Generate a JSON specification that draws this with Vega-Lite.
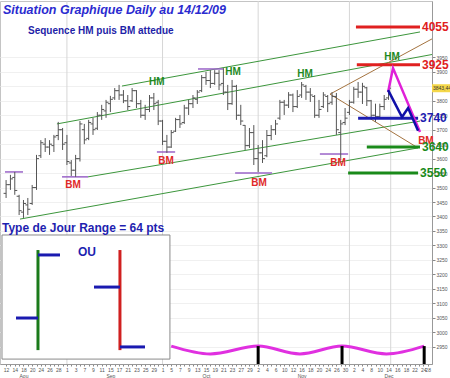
{
  "$schema": "https://vega.github.io/schema/vega-lite/v6.json",
  "width": 432,
  "height": 363,
  "autosize": {"type": "none"},
  "padding": {"left": 0, "top": 1, "right": 18, "bottom": 14},
  "background": "white",
  "title": {
    "text": "Situation Graphique Daily au 14/12/09",
    "anchor": "start",
    "frame": "group",
    "offset": -16,
    "dx": 3,
    "font": "Liberation Sans",
    "fontSize": 12.5,
    "fontStyle": "italic",
    "fontWeight": "bold",
    "color": "#2b2bd0"
  },
  "config": {
    "font": "Liberation Sans",
    "view": {"stroke": "#c4c4c4"},
    "axis": {"labelOverlap": false}
  },
  "datasets": {
    "ohlc": [
      {"t":0,"date":"2009-08-12","open":3480,"high":3526,"low":3464,"close":3510},
      {"t":1,"date":"2009-08-13","open":3510,"high":3544,"low":3492,"close":3530},
      {"t":2,"date":"2009-08-14","open":3535,"high":3554,"low":3475,"close":3490},
      {"t":3,"date":"2009-08-17","open":3470,"high":3475,"low":3405,"close":3420},
      {"t":4,"date":"2009-08-18","open":3415,"high":3457,"low":3395,"close":3445},
      {"t":5,"date":"2009-08-19","open":3440,"high":3464,"low":3405,"close":3425},
      {"t":6,"date":"2009-08-20","open":3445,"high":3509,"low":3440,"close":3500},
      {"t":7,"date":"2009-08-21","open":3500,"high":3613,"low":3492,"close":3600},
      {"t":8,"date":"2009-08-24","open":3610,"high":3664,"low":3602,"close":3655},
      {"t":9,"date":"2009-08-25","open":3650,"high":3671,"low":3623,"close":3640},
      {"t":10,"date":"2009-08-26","open":3640,"high":3664,"low":3613,"close":3650},
      {"t":11,"date":"2009-08-27","open":3645,"high":3682,"low":3623,"close":3675},
      {"t":12,"date":"2009-08-28","open":3680,"high":3727,"low":3664,"close":3700},
      {"t":13,"date":"2009-08-31","open":3700,"high":3706,"low":3630,"close":3650},
      {"t":14,"date":"2009-09-01","open":3655,"high":3682,"low":3578,"close":3590},
      {"t":15,"date":"2009-09-02","open":3585,"high":3595,"low":3540,"close":3560},
      {"t":16,"date":"2009-09-03","open":3560,"high":3613,"low":3537,"close":3600},
      {"t":17,"date":"2009-09-04","open":3600,"high":3730,"low":3590,"close":3720},
      {"t":18,"date":"2009-09-07","open":3700,"high":3720,"low":3650,"close":3665},
      {"t":19,"date":"2009-09-08","open":3670,"high":3734,"low":3664,"close":3725},
      {"t":20,"date":"2009-09-09","open":3720,"high":3741,"low":3682,"close":3700},
      {"t":21,"date":"2009-09-10","open":3705,"high":3761,"low":3699,"close":3750},
      {"t":22,"date":"2009-09-11","open":3750,"high":3786,"low":3734,"close":3770},
      {"t":23,"date":"2009-09-14","open":3765,"high":3803,"low":3741,"close":3795},
      {"t":24,"date":"2009-09-15","open":3790,"high":3817,"low":3761,"close":3805},
      {"t":25,"date":"2009-09-16","open":3810,"high":3844,"low":3803,"close":3835},
      {"t":26,"date":"2009-09-17","open":3835,"high":3855,"low":3803,"close":3820},
      {"t":27,"date":"2009-09-18","open":3820,"high":3837,"low":3792,"close":3800},
      {"t":28,"date":"2009-09-21","open":3800,"high":3820,"low":3768,"close":3780},
      {"t":29,"date":"2009-09-22","open":3800,"high":3844,"low":3796,"close":3835},
      {"t":30,"date":"2009-09-23","open":3835,"high":3837,"low":3775,"close":3790},
      {"t":31,"date":"2009-09-24","open":3790,"high":3803,"low":3741,"close":3750},
      {"t":32,"date":"2009-09-25","open":3750,"high":3786,"low":3734,"close":3770},
      {"t":33,"date":"2009-09-28","open":3770,"high":3820,"low":3761,"close":3810},
      {"t":34,"date":"2009-09-29","open":3810,"high":3827,"low":3768,"close":3790},
      {"t":35,"date":"2009-09-30","open":3795,"high":3803,"low":3716,"close":3730},
      {"t":36,"date":"2009-10-01","open":3730,"high":3734,"low":3647,"close":3660},
      {"t":37,"date":"2009-10-02","open":3660,"high":3682,"low":3620,"close":3640},
      {"t":38,"date":"2009-10-05","open":3640,"high":3699,"low":3637,"close":3690},
      {"t":39,"date":"2009-10-06","open":3695,"high":3741,"low":3692,"close":3735},
      {"t":40,"date":"2009-10-07","open":3735,"high":3751,"low":3706,"close":3720},
      {"t":41,"date":"2009-10-08","open":3725,"high":3786,"low":3720,"close":3775},
      {"t":42,"date":"2009-10-09","open":3775,"high":3803,"low":3751,"close":3790},
      {"t":43,"date":"2009-10-12","open":3790,"high":3820,"low":3775,"close":3810},
      {"t":44,"date":"2009-10-13","open":3805,"high":3837,"low":3789,"close":3830},
      {"t":45,"date":"2009-10-14","open":3835,"high":3889,"low":3830,"close":3880},
      {"t":46,"date":"2009-10-15","open":3880,"high":3900,"low":3855,"close":3870},
      {"t":47,"date":"2009-10-16","open":3870,"high":3906,"low":3844,"close":3860},
      {"t":48,"date":"2009-10-19","open":3860,"high":3906,"low":3855,"close":3895},
      {"t":49,"date":"2009-10-20","open":3895,"high":3906,"low":3837,"close":3855},
      {"t":50,"date":"2009-10-21","open":3860,"high":3913,"low":3820,"close":3830},
      {"t":51,"date":"2009-10-22","open":3830,"high":3855,"low":3768,"close":3790},
      {"t":52,"date":"2009-10-23","open":3790,"high":3872,"low":3786,"close":3850},
      {"t":53,"date":"2009-10-26","open":3850,"high":3855,"low":3734,"close":3750},
      {"t":54,"date":"2009-10-27","open":3750,"high":3786,"low":3716,"close":3730},
      {"t":55,"date":"2009-10-28","open":3715,"high":3716,"low":3630,"close":3645},
      {"t":56,"date":"2009-10-29","open":3645,"high":3706,"low":3637,"close":3690},
      {"t":57,"date":"2009-10-30","open":3690,"high":3716,"low":3578,"close":3600},
      {"t":58,"date":"2009-11-02","open":3600,"high":3647,"low":3554,"close":3620},
      {"t":59,"date":"2009-11-03","open":3620,"high":3664,"low":3585,"close":3600},
      {"t":60,"date":"2009-11-04","open":3610,"high":3699,"low":3605,"close":3680},
      {"t":61,"date":"2009-11-05","open":3680,"high":3716,"low":3664,"close":3700},
      {"t":62,"date":"2009-11-06","open":3700,"high":3734,"low":3682,"close":3720},
      {"t":63,"date":"2009-11-09","open":3740,"high":3803,"low":3734,"close":3795},
      {"t":64,"date":"2009-11-10","open":3795,"high":3803,"low":3751,"close":3785},
      {"t":65,"date":"2009-11-11","open":3785,"high":3830,"low":3775,"close":3820},
      {"t":66,"date":"2009-11-12","open":3820,"high":3825,"low":3761,"close":3780},
      {"t":67,"date":"2009-11-13","open":3780,"high":3837,"low":3775,"close":3815},
      {"t":68,"date":"2009-11-16","open":3820,"high":3865,"low":3810,"close":3855},
      {"t":69,"date":"2009-11-17","open":3850,"high":3855,"low":3803,"close":3830},
      {"t":70,"date":"2009-11-18","open":3830,"high":3844,"low":3796,"close":3820},
      {"t":71,"date":"2009-11-19","open":3815,"high":3820,"low":3741,"close":3750},
      {"t":72,"date":"2009-11-20","open":3750,"high":3803,"low":3741,"close":3770},
      {"t":73,"date":"2009-11-23","open":3780,"high":3830,"low":3775,"close":3820},
      {"t":74,"date":"2009-11-24","open":3815,"high":3820,"low":3761,"close":3790},
      {"t":75,"date":"2009-11-25","open":3795,"high":3830,"low":3786,"close":3815},
      {"t":76,"date":"2009-11-26","open":3815,"high":3827,"low":3682,"close":3700},
      {"t":77,"date":"2009-11-27","open":3690,"high":3734,"low":3595,"close":3720},
      {"t":78,"date":"2009-11-30","open":3725,"high":3775,"low":3716,"close":3740},
      {"t":79,"date":"2009-12-01","open":3760,"high":3803,"low":3751,"close":3795},
      {"t":80,"date":"2009-12-02","open":3795,"high":3848,"low":3790,"close":3840},
      {"t":81,"date":"2009-12-03","open":3840,"high":3865,"low":3810,"close":3830},
      {"t":82,"date":"2009-12-04","open":3830,"high":3862,"low":3789,"close":3850},
      {"t":83,"date":"2009-12-07","open":3845,"high":3848,"low":3782,"close":3800},
      {"t":84,"date":"2009-12-08","open":3800,"high":3803,"low":3741,"close":3750},
      {"t":85,"date":"2009-12-09","open":3750,"high":3790,"low":3727,"close":3745},
      {"t":86,"date":"2009-12-10","open":3745,"high":3790,"low":3741,"close":3780},
      {"t":87,"date":"2009-12-11","open":3780,"high":3820,"low":3768,"close":3805},
      {"t":88,"date":"2009-12-14","open":3810,"high":3848,"low":3803,"close":3843.44}
    ],
    "monthLines": [{"t":14},{"t":36},{"t":58},{"t":79},{"t":88.5}],
    "trends": [
      {"line":"upper","family":"channel","t":26.67,"p":3851},
      {"line":"upper","family":"channel","t":95.24,"p":4038},
      {"line":"mid","family":"channel","t":11.7,"p":3720},
      {"line":"mid","family":"channel","t":98,"p":3960},
      {"line":"lowInner","family":"channel","t":18.85,"p":3537},
      {"line":"lowInner","family":"channel","t":95.24,"p":3730},
      {"line":"low","family":"channel","t":3.2,"p":3391},
      {"line":"low","family":"channel","t":94.78,"p":3637},
      {"line":"fanUp","family":"fan","t":74.53,"p":3823},
      {"line":"fanUp","family":"fan","t":98,"p":4014},
      {"line":"fanDown","family":"fan","t":74.53,"p":3823},
      {"line":"fanDown","family":"fan","t":94.78,"p":3637}
    ],
    "pivots": [
      {"type":"HM","t0":-0.25,"t1":3.9,"p":3554},
      {"type":"BM","t0":12.87,"t1":18.85,"p":3537},
      {"type":"BM","t0":34.7,"t1":38.9,"p":3623},
      {"type":"HM","t0":44.16,"t1":49.9,"p":3910},
      {"type":"BM","t0":52.7,"t1":61.2,"p":3550},
      {"type":"BM","t0":72.2,"t1":78.7,"p":3616}
    ],
    "pivotLabels": [
      {"label":"HM","t":34.7,"p":3865},
      {"label":"HM","t":52.2,"p":3900},
      {"label":"HM","t":68.8,"p":3893},
      {"label":"HM","t":88.8,"p":3951},
      {"label":"BM","t":15.4,"p":3509},
      {"label":"BM","t":36.8,"p":3592},
      {"label":"BM","t":58.2,"p":3516},
      {"label":"BM","t":76.4,"p":3585},
      {"label":"BM","t":96.6,"p":3661}
    ],
    "levels": [
      {"value":4055,"t0":80.5,"t1":95.24,"kind":"objectif"},
      {"value":3925,"t0":80.7,"t1":95.24,"kind":"resistance"},
      {"value":3740,"t0":81,"t1":94.8,"kind":"pivot"},
      {"value":3640,"t0":83,"t1":95.24,"kind":"support"},
      {"value":3550,"t0":78.7,"t1":94.8,"kind":"support"}
    ],
    "projection": [
      {"path":"haut","step":0,"t":87.9,"p":3830},
      {"path":"haut","step":1,"t":89.03,"p":3913},
      {"path":"haut","step":2,"t":95.24,"p":3692},
      {"path":"bas","step":0,"t":87.9,"p":3837},
      {"path":"bas","step":1,"t":91.1,"p":3744},
      {"path":"bas","step":2,"t":92.5,"p":3775},
      {"path":"bas","step":3,"t":94.8,"p":3696}
    ],
    "cycle": [
      {"t":38,"p":2952},{"t":47,"p":2925},{"t":58,"p":2952},{"t":67.6,"p":2925},
      {"t":77.3,"p":2952},{"t":87.5,"p":2925},{"t":96.2,"p":2952}
    ],
    "cycleMarks": [{"t":58,"p":2952},{"t":77.3,"p":2952},{"t":96.2,"p":2952}],
    "insetBox": [{"t0":-0.94,"t1":37.7,"p0":2907,"p1":3336}],
    "insetLines": [
      {"kind":"haussier","t0":7.34,"t1":7.34,"p0":2938,"p1":3284},
      {"kind":"cours","t0":7.34,"t1":12.4,"p0":3267,"p1":3267},
      {"kind":"cours","t0":2.28,"t1":7.34,"p0":3049,"p1":3049},
      {"kind":"baissier","t0":26.2,"t1":26.2,"p0":2938,"p1":3284},
      {"kind":"cours","t0":20.23,"t1":26.2,"p0":3156,"p1":3156},
      {"kind":"cours","t0":26.2,"t1":31.96,"p0":2949,"p1":2949}
    ],
    "notes": [
      {"role":"sous-titre","text":"Sequence HM puis BM attedue","t":5.04,"p":4041},
      {"role":"note","text":"Type de Jour Range = 64 pts","t":-0.94,"p":3360},
      {"role":"note","text":"OU","t":16.55,"p":3277}
    ],
    "lastPrice": [{"close":3843.44,"label":"3843,44"}]
  },
  "layer": [
    {
      "data": {"name": "monthLines"},
      "mark": {"type": "rule", "color": "#d6d6d6", "strokeWidth": 1},
      "encoding": {
        "x": {
          "field": "t", "type": "quantitative", "title": null,
          "scale": {"domain": [-1.4, 98], "nice": false, "zero": false},
          "axis": {
            "orient": "bottom",
            "values": [0,1,2,3,4,5,6,7,8,9,10,11,12,13,14,15,16,17,18,19,20,21,22,23,24,25,26,27,28,29,30,31,32,33,34,35,36,37,38,39,40,41,42,43,44,45,46,47,48,49,50,51,52,53,54,55,56,57,58,59,60,61,62,63,64,65,66,67,68,69,70,71,72,73,74,75,76,77,78,79,80,81,82,83,84,85,86,87,88,89,90,91,92,93,94,95,96,97],
            "tickCount": 500,
            "labelExpr": "datum.value == 4 ? ['18','Aou'] : datum.value == 24 ? ['15','Sep'] : datum.value == 46 ? ['15','Oct'] : datum.value == 68 ? ['16','Nov'] : datum.value == 88 ? ['14','Dec'] : datum.value == 97 ? '28' : datum.value % 2 == 0 ? ['12','14','18','20','24','26','28','1','3','7','9','11','15','17','21','23','25','29','1','5','7','9','13','15','19','21','23','27','29','2','4','6','10','12','16','18','20','24','26','30','2','4','8','10','14','16','18','22','24'][datum.value / 2] : ''",
            "labelFontSize": 5,
            "labelColor": "#555555",
            "labelLineHeight": 6,
            "labelPadding": 1,
            "labelOverlap": false,
            "labelFlush": false,
            "tickSize": 2,
            "tickColor": "#888888",
            "domainColor": "#999999",
            "grid": false
          }
        }
      }
    },
    {
      "data": {"name": "trends"},
      "transform": [{"filter": "datum.family == 'channel'"}],
      "mark": {"type": "line", "color": "#3c963c", "strokeWidth": 1},
      "encoding": {
        "x": {"field": "t", "type": "quantitative", "title": null},
        "y": {"field": "p", "type": "quantitative", "title": null},
        "detail": {"field": "line"}
      }
    },
    {
      "data": {"name": "trends"},
      "transform": [{"filter": "datum.family == 'fan'"}],
      "mark": {"type": "line", "color": "#a4733f", "strokeWidth": 1},
      "encoding": {
        "x": {"field": "t", "type": "quantitative", "title": null},
        "y": {"field": "p", "type": "quantitative", "title": null},
        "detail": {"field": "line"}
      }
    },
    {
      "data": {"name": "pivots"},
      "mark": {"type": "rule", "color": "#9a64c8", "strokeWidth": 1.5},
      "encoding": {
        "x": {"field": "t0", "type": "quantitative", "title": null},
        "x2": {"field": "t1"},
        "y": {"field": "p", "type": "quantitative", "title": null}
      }
    },
    {
      "data": {"name": "ohlc"},
      "mark": {"type": "rule", "color": "#555555", "strokeWidth": 1},
      "encoding": {
        "x": {"field": "t", "type": "quantitative", "title": null},
        "y": {
          "field": "low", "type": "quantitative", "title": null,
          "scale": {"domain": [2890, 4145], "nice": false, "zero": false},
          "axis": {
            "orient": "right",
            "values": [2950,3000,3050,3100,3150,3200,3250,3300,3350,3400,3450,3500,3550,3600,3650,3700,3750,3800,3850,3900,3950],
            "tickCount": 500,
            "format": "d",
            "labelFontSize": 5,
            "labelColor": "#555555",
            "labelPadding": 1,
            "labelOverlap": false,
            "tickSize": 3,
            "tickColor": "#888888",
            "domainColor": "#999999",
            "grid": true,
            "gridColor": "#f0f0f0"
          }
        },
        "y2": {"field": "high"}
      }
    },
    {
      "data": {"name": "ohlc"},
      "mark": {"type": "rule", "color": "#555555", "strokeWidth": 1, "xOffset": -2.5},
      "encoding": {
        "x": {"field": "t", "type": "quantitative", "title": null},
        "x2": {"field": "t"},
        "y": {"field": "open", "type": "quantitative", "title": null}
      }
    },
    {
      "data": {"name": "ohlc"},
      "mark": {"type": "rule", "color": "#555555", "strokeWidth": 1, "x2Offset": 2.5},
      "encoding": {
        "x": {"field": "t", "type": "quantitative", "title": null},
        "x2": {"field": "t"},
        "y": {"field": "close", "type": "quantitative", "title": null}
      }
    },
    {
      "data": {"name": "levels"},
      "mark": {"type": "rule", "strokeWidth": 3},
      "encoding": {
        "x": {"field": "t0", "type": "quantitative", "title": null},
        "x2": {"field": "t1"},
        "y": {"field": "value", "type": "quantitative", "title": null},
        "color": {
          "condition": [
            {"test": "datum.kind == 'pivot'", "value": "#1c1cb0"},
            {"test": "datum.kind == 'support'", "value": "#1a8a1a"}
          ],
          "value": "#e02020"
        }
      }
    },
    {
      "data": {"name": "projection"},
      "mark": {"type": "line", "strokeWidth": 2.5},
      "encoding": {
        "x": {"field": "t", "type": "quantitative", "title": null},
        "y": {"field": "p", "type": "quantitative", "title": null},
        "order": {"field": "step"},
        "detail": {"field": "path"},
        "color": {
          "condition": {"test": "datum.path == 'haut'", "value": "#e020d8"},
          "value": "#1010a8"
        }
      }
    },
    {
      "data": {"name": "pivotLabels"},
      "mark": {"type": "text", "fontSize": 10, "fontWeight": "bold", "align": "center", "baseline": "middle"},
      "encoding": {
        "x": {"field": "t", "type": "quantitative", "title": null},
        "y": {"field": "p", "type": "quantitative", "title": null},
        "text": {"field": "label"},
        "color": {
          "condition": {"test": "datum.label == 'HM'", "value": "#1f8a1f"},
          "value": "#e02828"
        }
      }
    },
    {
      "data": {"name": "levels"},
      "mark": {"type": "text", "fontSize": 12, "fontWeight": "bold", "align": "left", "baseline": "middle", "dx": 2},
      "encoding": {
        "x": {"field": "t1", "type": "quantitative", "title": null},
        "y": {"field": "value", "type": "quantitative", "title": null},
        "text": {"field": "value"},
        "color": {
          "condition": [
            {"test": "datum.kind == 'pivot'", "value": "#1c1cb0"},
            {"test": "datum.kind == 'support'", "value": "#1a8a1a"}
          ],
          "value": "#e02020"
        }
      }
    },
    {
      "data": {"name": "cycle"},
      "mark": {"type": "line", "color": "#e030e0", "strokeWidth": 3, "interpolate": "monotone"},
      "encoding": {
        "x": {"field": "t", "type": "quantitative", "title": null},
        "y": {"field": "p", "type": "quantitative", "title": null}
      }
    },
    {
      "data": {"name": "cycleMarks"},
      "mark": {"type": "rule", "color": "#000000", "strokeWidth": 3},
      "encoding": {
        "x": {"field": "t", "type": "quantitative", "title": null},
        "y": {"field": "p", "type": "quantitative", "title": null},
        "y2": {"datum": 2890}
      }
    },
    {
      "data": {"name": "insetBox"},
      "mark": {"type": "rect", "fill": "white", "stroke": "#8a8a8a", "strokeWidth": 1},
      "encoding": {
        "x": {"field": "t0", "type": "quantitative", "title": null},
        "x2": {"field": "t1"},
        "y": {"field": "p0", "type": "quantitative", "title": null},
        "y2": {"field": "p1"}
      }
    },
    {
      "data": {"name": "insetLines"},
      "mark": {"type": "rule", "strokeWidth": 3},
      "encoding": {
        "x": {"field": "t0", "type": "quantitative", "title": null},
        "x2": {"field": "t1"},
        "y": {"field": "p0", "type": "quantitative", "title": null},
        "y2": {"field": "p1"},
        "color": {
          "condition": [
            {"test": "datum.kind == 'haussier'", "value": "#1a7a1a"},
            {"test": "datum.kind == 'baissier'", "value": "#d02020"}
          ],
          "value": "#1a1ab0"
        }
      }
    },
    {
      "data": {"name": "notes"},
      "transform": [{"filter": "datum.role == 'note'"}],
      "mark": {"type": "text", "fontSize": 12, "fontWeight": "bold", "align": "left", "baseline": "middle", "color": "#1f1fb0"},
      "encoding": {
        "x": {"field": "t", "type": "quantitative", "title": null},
        "y": {"field": "p", "type": "quantitative", "title": null},
        "text": {"field": "text"}
      }
    },
    {
      "data": {"name": "notes"},
      "transform": [{"filter": "datum.role == 'sous-titre'"}],
      "mark": {"type": "text", "fontSize": 10, "fontWeight": "bold", "align": "left", "baseline": "middle", "color": "#1f1fa8"},
      "encoding": {
        "x": {"field": "t", "type": "quantitative", "title": null},
        "y": {"field": "p", "type": "quantitative", "title": null},
        "text": {"field": "text"}
      }
    },
    {
      "data": {"name": "lastPrice"},
      "mark": {"type": "rect", "fill": "#f5d84a", "yOffset": -4, "y2Offset": 4},
      "encoding": {
        "x": {"datum": 98},
        "x2": {"datum": 102.2},
        "y": {"field": "close", "type": "quantitative", "title": null},
        "y2": {"field": "close"}
      }
    },
    {
      "data": {"name": "lastPrice"},
      "mark": {"type": "text", "fontSize": 5, "align": "left", "baseline": "middle", "color": "#333333", "dx": 1},
      "encoding": {
        "x": {"datum": 98},
        "y": {"field": "close", "type": "quantitative", "title": null},
        "text": {"field": "label"}
      }
    }
  ]
}
